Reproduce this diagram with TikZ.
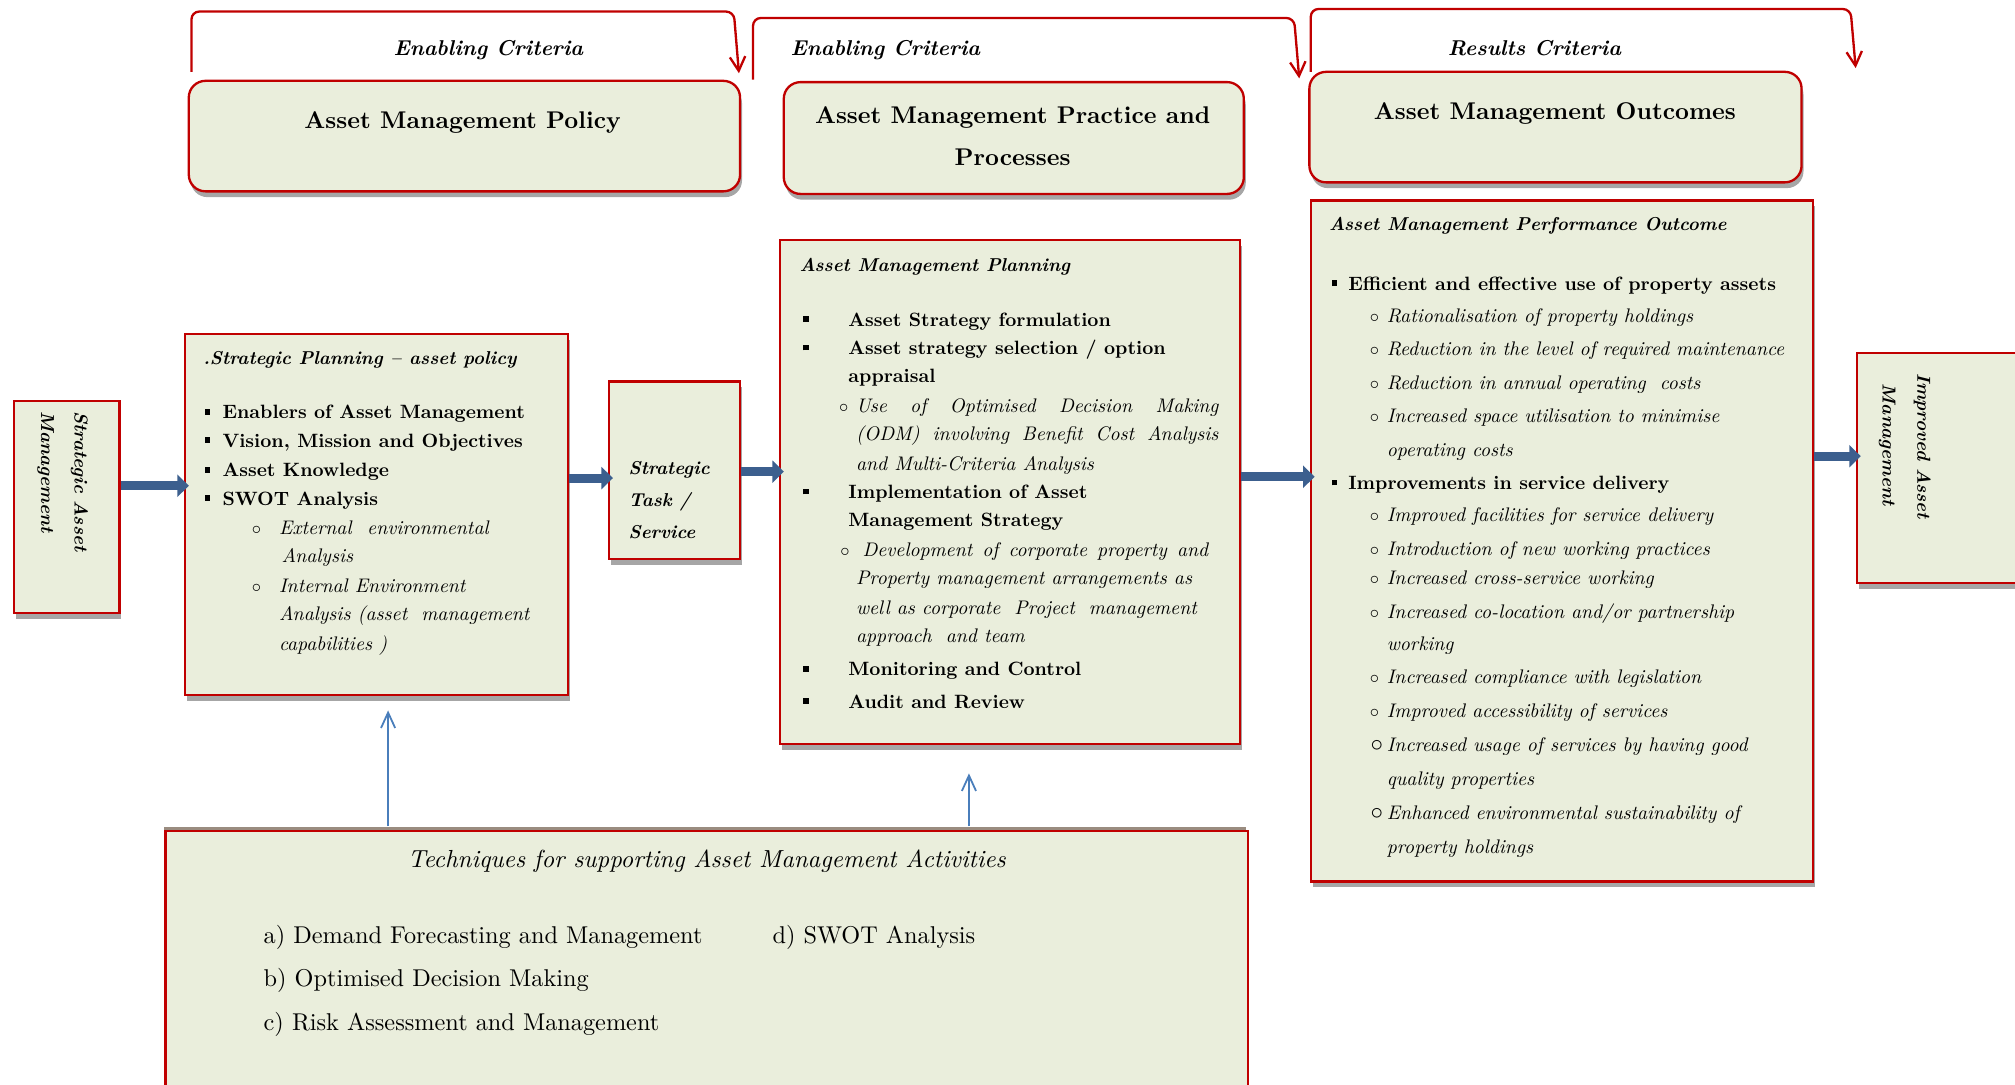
\documentclass[tikz,border=0pt]{standalone}
\usepackage{fontspec}
\setmainfont{lmroman10-regular.otf}[
  BoldFont=lmroman10-bold.otf,
  ItalicFont=lmroman10-italic.otf,
  BoldItalicFont=lmroman10-bolditalic.otf]
\usetikzlibrary{arrows.meta,shadows}

\definecolor{boxfill}{HTML}{EAEEDC}
\definecolor{boxred}{HTML}{C00000}
\definecolor{shadowgray}{HTML}{A6A6A6}
\definecolor{flowblue}{HTML}{3C5F8E}
\definecolor{linkblue}{HTML}{4A7EBB}
\definecolor{topshade}{HTML}{9A8C80}

% list markers hung to the left of the line start
\newcommand{\sqb}[1]{\llap{\rule[0.22em]{4.5pt}{4.5pt}\hspace*{#1}}}
\newcommand{\cbul}[1]{\llap{$\circ$\hspace*{#1}}}
\newcommand{\Cbul}[1]{\llap{\scalebox{1.35}{$\circ$}\hspace*{#1}}}

\begin{document}
\begin{tikzpicture}[x=1pt,y=-1pt,
  box/.style={draw=boxred, line width=1.8pt, fill=boxfill, inner sep=0pt, anchor=north west,
    drop shadow={shadow xshift=1.5pt, shadow yshift=-4.5pt, fill=shadowgray, opacity=1}},
  rbox/.style={box, rounded corners=13pt},
  tbox/.style={draw=boxred, line width=1.8pt, fill=boxfill, inner sep=0pt, anchor=north west,
    drop shadow={shadow xshift=-1pt, shadow yshift=3pt, fill=topshade, opacity=1}},
  txt/.style={inner sep=0pt, anchor=base west},
  bodyb/.style={txt, font=\fontsize{15}{18}\bfseries},
  bodyi/.style={txt, font=\fontsize{15.3}{18}\itshape},
  titlebi/.style={txt, font=\fontsize{14.5}{17}\bfseries\itshape},
  head/.style={inner sep=0pt, anchor=base, font=\fontsize{18.8}{22}\bfseries},
  crit/.style={inner sep=0pt, anchor=base, font=\fontsize{16.7}{19}\bfseries\itshape},
  techr/.style={txt, font=\fontsize{18.9}{22}\selectfont},
  techi/.style={inner sep=0pt, anchor=base, font=\fontsize{19.2}{22}\itshape},
  rot/.style={inner sep=0pt, rotate=-90, font=\fontsize{14.6}{17}\bfseries\itshape},
  flow/.style={draw=flowblue, line width=7pt, -{Triangle[length=9pt,width=17pt]}, shorten >=-4pt},
  link/.style={draw=linkblue, line width=1.4pt, -{Straight Barb[length=12pt,width=11pt]}},
  critline/.style={draw=boxred, line width=1.8pt, rounded corners=6pt, -{Straight Barb[length=11pt,width=12pt]}}
]
\useasboundingbox (0,0) rectangle (1568,844);
\clip (0,0) rectangle (1568,844);

% ---------- criteria brackets ----------
\coordinate (b1s) at (149,56); \coordinate (b1a) at (149,9);  \coordinate (b1b) at (571,9);  \coordinate (b1e) at (575,57);
\coordinate (b2s) at (586,62); \coordinate (b2a) at (586,14); \coordinate (b2b) at (1007,14); \coordinate (b2e) at (1011,61);
\coordinate (b3s) at (1020,56); \coordinate (b3a) at (1020,7); \coordinate (b3b) at (1440,7); \coordinate (b3e) at (1444,53);
\draw[critline] (b1s) -- (b1a) -- (b1b) -- (b1e);
\draw[critline] (b2s) -- (b2a) -- (b2b) -- (b2e);
\draw[critline] (b3s) -- (b3a) -- (b3b) -- (b3e);
\node[crit] (c1) at (380,43) {Enabling Criteria};
\node[crit] (c2) at (689,43) {Enabling Criteria};
\node[crit] (c3) at (1194,43) {Results Criteria};

% ---------- heading boxes ----------
\node[rbox, minimum width=429pt, minimum height=86pt] (policy) at (146,62) {};
\node[rbox, minimum width=358pt, minimum height=87pt] (practice) at (609,63) {};
\node[rbox, minimum width=383pt, minimum height=86pt] (outcomes) at (1018,55) {};
\node[head] (policyT) at (360,100) {Asset Management Policy};
\node[head] (practiceT1) at (788,96) {Asset Management Practice and};
\node[head] (practiceT2) at (788,129) {Processes};
\node[head] (outcomesT) at (1210,93) {Asset Management Outcomes};

% ---------- content boxes ----------
\node[box, minimum width=82pt, minimum height=165pt] (sam) at (10,311) {};
\node[box, minimum width=298pt, minimum height=281pt] (sp) at (143,259) {};
\node[box, minimum width=102pt, minimum height=138pt] (task) at (473,296) {};
\node[box, minimum width=358pt, minimum height=392pt] (plan) at (606,186) {};
\node[box, minimum width=391pt, minimum height=530pt] (po) at (1019,155) {};
\node[box, minimum width=160pt, minimum height=179pt] (imp) at (1444,274) {};
\node[tbox, minimum width=842pt, minimum height=240pt] (tech) at (128,646) {};

% ---------- flow arrows ----------
\coordinate (ya) at (0,378); \coordinate (yb) at (0,372); \coordinate (yc) at (0,367);
\coordinate (yd) at (0,371); \coordinate (ye) at (0,355);
\draw[flow] (sam.east |- ya) -- (sp.west |- ya);
\draw[flow] (sp.east |- yb) -- (task.west |- yb);
\draw[flow] (task.east |- yc) -- (plan.west |- yc);
\draw[flow] (plan.east |- yd) -- (po.west |- yd);
\draw[flow] (po.east |- ye) -- (imp.west |- ye);

% ---------- support arrows ----------
\coordinate (xa) at (302,0); \coordinate (xb) at (754,0);
\draw[link, shorten <=3pt, shorten >=11pt] (tech.north -| xa) -- (sp.south -| xa);
\draw[link, shorten <=3pt, shorten >=22pt] (tech.north -| xb) -- (plan.south -| xb);

% ---------- side labels ----------
\node[rot, anchor=base west] (samT1) at (58,320) {Strategic Asset};
\node[rot, anchor=base west] (samT2) at (32,320) {Management};
\node[rot, anchor=base] (impT1) at (1492,347) {Improved Asset};
\node[rot, anchor=base] (impT2) at (1465,346) {Management};

% ---------- strategic planning ----------
\node[titlebi] (spT) at (158,284) {.Strategic Planning -- asset policy};
\node[bodyb] (sp1) at (173,326) {\sqb{9.5pt}Enablers of Asset Management};
\node[bodyb] (sp2) at (173,348) {\sqb{9.5pt}Vision, Mission and Objectives};
\node[bodyb] (sp3) at (173,371) {\sqb{9.5pt}Asset Knowledge};
\node[bodyb] (sp4) at (173,393) {\sqb{9.5pt}SWOT Analysis};
\node[bodyi] (sp5) at (217,416) {\cbul{14pt}\makebox[163pt][s]{External environmental}};
\node[bodyi] (sp6) at (219,438) {Analysis};
\node[bodyi] (sp7) at (217,461) {\cbul{14pt}Internal Environment};
\node[bodyi] (sp8) at (217,483) {Analysis (asset\ \ management};
\node[bodyi] (sp9) at (217,506) {capabilities )};

% ---------- strategic task ----------
\node[titlebi] (tk1) at (489,369) {Strategic};
\node[titlebi] (tk2) at (489,394) {Task /};
\node[titlebi] (tk3) at (489,419) {Service};

% ---------- asset management planning ----------
\node[titlebi] (plT) at (622,211) {Asset Management Planning};
\node[bodyb] (pl1) at (660,254) {\sqb{30.5pt}Asset Strategy formulation};
\node[bodyb] (pl2) at (660,276) {\sqb{30.5pt}Asset strategy selection / option};
\node[bodyb] (pl3) at (660,298) {appraisal};
\node[bodyi] (pl4) at (666,321) {\cbul{6pt}\makebox[282pt][s]{Use of Optimised Decision Making}};
\node[bodyi] (pl5) at (666,343) {\makebox[282pt][s]{(ODM) involving Benefit Cost Analysis}};
\node[bodyi] (pl6) at (666,366) {and Multi-Criteria Analysis};
\node[bodyb] (pl7) at (660,388) {\sqb{30.5pt}Implementation of Asset};
\node[bodyb] (pl8) at (660,410) {Management Strategy};
\node[bodyi] (pl9) at (671,433) {\cbul{10pt}\makebox[269pt][s]{Development of corporate property and}};
\node[bodyi] (pl10) at (666,455) {Property management arrangements as};
\node[bodyi] (pl11) at (666,478) {well as corporate\ \ Project\ \ management};
\node[bodyi] (pl12) at (666,500) {approach\ \ and team};
\node[bodyb] (pl13) at (660,526) {\sqb{30.5pt}Monitoring and Control};
\node[bodyb] (pl14) at (660,551) {\sqb{30.5pt}Audit and Review};

% ---------- performance outcome ----------
\node[titlebi] (poT) at (1034,179) {Asset Management Performance Outcome};
\node[bodyb] (po1) at (1049,226) {\sqb{8.5pt}Efficient and effective use of property assets};
\node[bodyi] (po2) at (1079,251) {\cbul{6pt}Rationalisation of property holdings};
\node[bodyi] (po3) at (1079,277) {\cbul{6pt}Reduction in the level of required maintenance};
\node[bodyi] (po4) at (1079,303) {\cbul{6pt}Reduction in annual operating\ \ costs};
\node[bodyi] (po5) at (1079,329) {\cbul{6pt}Increased space utilisation to minimise};
\node[bodyi] (po6) at (1079,355) {operating costs};
\node[bodyb] (po7) at (1049,381) {\sqb{8.5pt}Improvements in service delivery};
\node[bodyi] (po8) at (1079,406) {\cbul{6pt}Improved facilities for service delivery};
\node[bodyi] (po9) at (1079,432) {\cbul{6pt}Introduction of new working practices};
\node[bodyi] (po10) at (1079,455) {\cbul{6pt}Increased cross-service working};
\node[bodyi] (po11) at (1079,481) {\cbul{6pt}Increased co-location and/or partnership};
\node[bodyi] (po12) at (1079,506) {working};
\node[bodyi] (po13) at (1079,532) {\cbul{6pt}Increased compliance with legislation};
\node[bodyi] (po14) at (1079,558) {\cbul{6pt}Improved accessibility of services};
\node[bodyi] (po15) at (1079,585) {\Cbul{3pt}Increased usage of services by having good};
\node[bodyi] (po16) at (1079,611) {quality properties};
\node[bodyi] (po17) at (1079,638) {\Cbul{3pt}Enhanced environmental sustainability of};
\node[bodyi] (po18) at (1079,664) {property holdings};

% ---------- techniques ----------
\node[techi] (tcT) at (550,675) {Techniques for supporting Asset Management Activities};
\node[techr] (tc1) at (205,734) {a) Demand Forecasting and Management};
\node[techr] (tc4) at (601,734) {d) SWOT Analysis};
\node[techr] (tc2) at (205,768) {b) Optimised Decision Making};
\node[techr] (tc3) at (205,802) {c) Risk Assessment and Management};
\end{tikzpicture}
\end{document}
